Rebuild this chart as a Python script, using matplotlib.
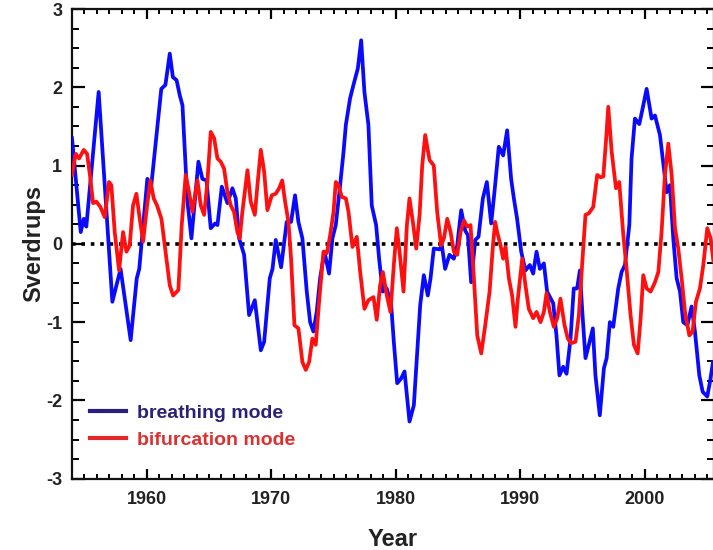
import matplotlib
matplotlib.use("Agg")
import matplotlib.pyplot as plt
from matplotlib.lines import Line2D
from matplotlib.ticker import MultipleLocator

plt.rcParams['font.family'] = ['Liberation Sans', 'DejaVu Sans']
plt.rcParams['axes.unicode_minus'] = False

# breathing mode (blue)
breath_year = [1954.0, 1954.7, 1954.95, 1955.15, 1956.14, 1957.24, 1957.9, 1958.71, 1959.2, 1959.4,
               1960.05, 1960.37, 1961.17, 1961.5, 1961.85, 1962.1, 1962.4, 1962.65, 1962.87, 1963.27,
               1963.59, 1964.15, 1964.47, 1964.8, 1965.14, 1965.49, 1965.68, 1966.03, 1966.48, 1966.88,
               1967.15, 1967.42, 1967.82, 1968.22, 1968.68, 1969.16, 1969.43, 1969.88, 1970.1, 1970.36,
               1970.79, 1971.24, 1971.59, 1971.91, 1972.18, 1972.5, 1972.85, 1973.12, 1973.38, 1973.65,
               1973.92, 1974.27, 1974.64, 1974.91, 1975.18, 1975.53, 1975.8, 1975.99, 1976.33, 1976.6,
               1976.95, 1977.22, 1977.48, 1977.8, 1978.07, 1978.42, 1978.66, 1978.95, 1979.27, 1979.63,
               1979.84, 1980.11, 1980.43, 1980.7, 1981.1, 1981.45, 1981.77, 1981.96, 1982.25, 1982.57,
               1982.79, 1983.05, 1983.51, 1983.7, 1983.96, 1984.31, 1984.66, 1984.93, 1985.25, 1985.57,
               1985.79, 1986.05, 1986.38, 1986.64, 1986.99, 1987.31, 1987.66, 1987.92, 1988.27, 1988.62,
               1988.94, 1989.26, 1989.48, 1989.74, 1990.07, 1990.41, 1990.76, 1991.03, 1991.3, 1991.57,
               1991.89, 1992.15, 1992.64, 1992.9, 1993.14, 1993.44, 1993.71, 1994.03, 1994.29, 1994.56,
               1994.78, 1994.96, 1995.23, 1995.5, 1995.82, 1996.03, 1996.38, 1996.71, 1996.93, 1997.19,
               1997.46, 1997.86, 1998.13, 1998.4, 1998.75, 1998.93, 1999.2, 1999.55, 1999.82, 2000.14,
               2000.54, 2000.81, 2001.21, 2001.53, 2001.75, 2002.01, 2002.28, 2002.55, 2002.82, 2003.08,
               2003.41, 2003.75, 2004.02, 2004.37, 2004.64, 2005.01, 2005.23, 2005.47]
breath_val = [1.35, 0.15, 0.32, 0.22, 1.94, -0.74, -0.32, -1.23, -0.44, -0.32,
              0.83, 0.75, 1.98, 2.03, 2.43, 2.13, 2.09, 1.9, 1.77, 0.54,
              0.07, 1.05, 0.83, 0.81, 0.2, 0.26, 0.24, 0.73, 0.52, 0.71,
              0.58, 0.07, -0.14, -0.91, -0.72, -1.36, -1.25, -0.44, -0.32, 0.05,
              -0.3, 0.28, 0.28, 0.62, 0.28, 0.07, -0.61, -1.0, -1.12, -0.87,
              -0.44, -0.1, -0.38, 0.07, 0.24, 0.75, 1.17, 1.52, 1.86, 2.03,
              2.24, 2.6, 1.94, 1.52, 0.49, 0.24, -0.19, -0.61, -0.57, -0.78,
              -1.25, -1.78, -1.72, -1.63, -2.27, -2.06, -1.25, -0.78, -0.4, -0.66,
              -0.44, -0.06, -0.07, -0.02, -0.32, -0.14, -0.19, -0.02, 0.43, 0.17,
              0.11, -0.49, 0.05, 0.09, 0.58, 0.79, 0.26, 0.66, 1.24, 1.13,
              1.45, 0.83, 0.58, 0.32, -0.1, -0.34, -0.27, -0.38, -0.1, -0.32,
              -0.25, -0.61, -0.76, -1.17, -1.68, -1.57, -1.66, -1.21, -0.57, -0.57,
              -0.34, -0.83, -1.46, -1.29, -1.08, -1.68, -2.19, -1.59, -1.46, -1.0,
              -1.06, -0.57, -0.36, -0.27, 0.24, 1.09, 1.6, 1.53, 1.73, 1.98,
              1.6, 1.64, 1.39, 0.96, 0.66, 0.75, 0.07, -0.44, -0.61, -1.0,
              -1.04, -0.8, -1.12, -1.68, -1.89, -1.95, -1.76, -1.51]

# bifurcation mode (red)
bifur_year = [1954.0, 1954.3, 1954.57, 1954.94, 1955.21, 1955.48, 1955.69, 1955.96, 1956.28, 1956.63,
              1956.97, 1957.16, 1957.43, 1957.78, 1958.1, 1958.37, 1958.63, 1958.9, 1959.17, 1959.44,
              1959.71, 1960.03, 1960.29, 1960.56, 1960.83, 1961.18, 1961.58, 1961.85, 1962.12, 1962.54,
              1962.81, 1963.13, 1963.4, 1963.67, 1964.07, 1964.34, 1964.61, 1964.87, 1965.14, 1965.41,
              1965.68, 1965.94, 1966.21, 1966.48, 1966.75, 1967.01, 1967.28, 1967.47, 1967.68, 1968.09,
              1968.35, 1968.68, 1968.89, 1969.16, 1969.43, 1969.69, 1970.04, 1970.36, 1970.63, 1970.88,
              1971.11, 1971.38, 1971.59, 1971.86, 1972.18, 1972.5, 1972.77, 1973.04, 1973.3, 1973.57,
              1973.84, 1974.19, 1974.46, 1974.73, 1975.0, 1975.18, 1975.4, 1975.66, 1975.99, 1976.2,
              1976.52, 1976.87, 1977.14, 1977.48, 1977.8, 1978.21, 1978.47, 1978.74, 1978.96, 1979.28,
              1979.57, 1979.84, 1980.08, 1980.3, 1980.62, 1980.89, 1981.1, 1981.37, 1981.64, 1981.91,
              1982.12, 1982.36, 1982.71, 1983.05, 1983.32, 1983.64, 1983.86, 1984.13, 1984.4, 1984.66,
              1984.93, 1985.2, 1985.47, 1985.74, 1986.0, 1986.27, 1986.54, 1986.86, 1987.18, 1987.53,
              1987.8, 1987.98, 1988.14, 1988.41, 1988.62, 1988.81, 1989.08, 1989.34, 1989.61, 1989.8,
              1990.15, 1990.41, 1990.68, 1991.03, 1991.3, 1991.62, 1991.89, 1992.1, 1992.37, 1992.69,
              1992.96, 1993.22, 1993.55, 1993.81, 1994.08, 1994.43, 1994.7, 1994.96, 1995.23, 1995.5,
              1995.85, 1996.17, 1996.44, 1996.66, 1996.87, 1997.06, 1997.33, 1997.68, 1997.94, 1998.27,
              1998.53, 1998.85, 1999.12, 1999.42, 1999.66, 1999.87, 2000.14, 2000.46, 2000.81, 2001.08,
              2001.34, 2001.61, 2001.88, 2002.15, 2002.42, 2002.68, 2002.95, 2003.22, 2003.57, 2003.83,
              2004.1, 2004.42, 2004.69, 2005.01, 2005.28, 2005.5]
bifur_val = [0.88, 1.15, 1.09, 1.2, 1.15, 0.83, 0.52, 0.54, 0.47, 0.34,
             0.79, 0.75, 0.15, -0.34, 0.15, -0.1, -0.02, 0.49, 0.64, 0.32,
             0.03, 0.49, 0.81, 0.58, 0.49, 0.32, -0.19, -0.53, -0.66, -0.59,
             0.24, 0.88, 0.66, 0.41, 0.81, 0.49, 0.37, 0.79, 1.43, 1.35,
             1.09, 1.05, 0.96, 0.66, 0.49, 0.41, 0.15, 0.07, 0.41, 0.94,
             0.54, 0.37, 0.75, 1.2, 0.92, 0.43, 0.62, 0.64, 0.71, 0.81,
             0.54, 0.28, -0.19, -1.04, -1.08, -1.51, -1.61, -1.51, -1.21, -1.29,
             -0.74, -0.1, -0.12, 0.11, 0.41, 0.79, 0.75, 0.6, 0.58, 0.41,
             -0.04, 0.09, -0.36, -0.83, -0.72, -0.68, -0.97, -0.53, -0.36, -0.66,
             -0.87, -0.27, 0.2, -0.1, -0.61, 0.24, 0.58, 0.28, -0.06, 0.37,
             1.0, 1.39, 1.07, 1.0, 0.41, -0.02, 0.07, 0.32, 0.15, -0.1,
             -0.14, 0.15, 0.3, 0.22, 0.24, -0.44, -1.17, -1.4, -1.04, -0.61,
             -0.02, 0.28, 0.15, -0.02, -0.19, -0.04, -0.44, -0.66, -1.06, -0.7,
             -0.19, -0.53, -0.83, -0.95, -0.87, -1.0, -0.87, -0.63, -0.87, -1.06,
             -0.95, -0.7, -1.04, -1.21, -1.27, -1.25, -0.91, -0.27, 0.37, 0.39,
             0.47, 0.88, 0.85, 0.86, 1.3, 1.75, 1.18, 0.71, 0.79, 0.11,
             -0.32, -0.91, -1.29, -1.4, -0.95, -0.4, -0.57, -0.61, -0.49, -0.36,
             0.15, 0.88, 1.28, 0.88, 0.2, -0.06, -0.44, -0.87, -1.17, -1.12,
             -0.74, -0.57, -0.27, 0.2, 0.07, -0.22]

series_labels = ['breathing mode', 'bifurcation mode']
line_colors = ['#0a0aff', '#ff1010']
legend_handle_colors = ['#2a1f80', '#e02a2a']
legend_text_colors = ['#2b2278', '#dd3030']

fig = plt.figure(figsize=(7.13, 5.5), dpi=100)
ax = fig.add_axes([72/713, 1-478.7/550, (714-72)/713, (478.7-9)/550])

ax.axhline(0, color='black', lw=2.6, linestyle=(0, (1, 1.6)), dash_capstyle='butt', zorder=3)
ax.plot(breath_year, breath_val, color=line_colors[0], lw=2.7, zorder=4)
ax.plot(bifur_year, bifur_val, color=line_colors[1], lw=2.7, zorder=5)

ax.set_xlim(1954, 2005.55)
ax.set_ylim(-3, 3)
ax.xaxis.set_major_locator(MultipleLocator(10))
ax.xaxis.set_minor_locator(MultipleLocator(1))
ax.yaxis.set_major_locator(MultipleLocator(1))
ax.yaxis.set_minor_locator(MultipleLocator(0.25))

for s in ax.spines.values():
    s.set_linewidth(1.6)
    s.set_color('#111111')

ax.tick_params(axis='x', which='major', direction='in', length=7, width=1.6, top=True, bottom=True, pad=9)
ax.tick_params(axis='x', which='minor', direction='in', length=3.8, width=1.4, top=True, bottom=True)
ax.tick_params(axis='y', which='major', direction='in', length=9.5, width=1.6, left=True, right=True, pad=7)
ax.tick_params(axis='y', which='minor', direction='in', length=5, width=1.4, left=True, right=True)
for lab in ax.get_xticklabels() + ax.get_yticklabels():
    lab.set_fontweight('bold')
    lab.set_fontsize(13)
    lab.set_color('#222222')

ax.set_xlabel('Year', fontsize=17, fontweight='bold', color='#222222')
ax.set_ylabel('Sverdrups', fontsize=17, fontweight='bold', color='#222222')
ax.xaxis.set_label_coords(0.5, -0.105)
ax.yaxis.set_label_coords(-0.042, 0.5)

handles = [Line2D([], [], color=c, lw=3) for c in legend_handle_colors]
leg = ax.legend(handles, series_labels, loc='lower left', bbox_to_anchor=(0.0, 0.026),
                frameon=False, handlelength=1.9, handletextpad=0.55, labelspacing=0.5,
                prop={'weight': 'bold', 'size': 14}, labelcolor=legend_text_colors)

fig.savefig('out.png', dpi=100)
